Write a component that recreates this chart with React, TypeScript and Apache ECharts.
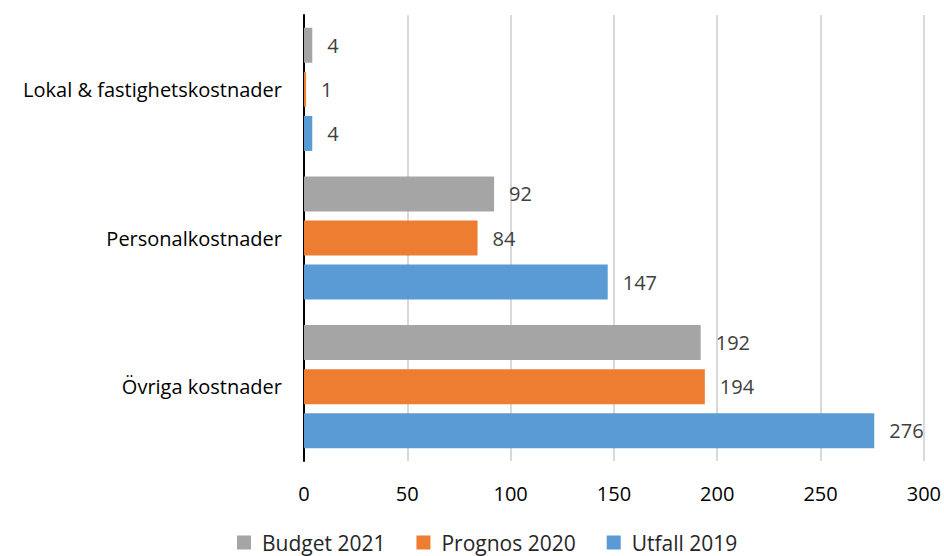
import React, { useEffect, useRef } from "react";
import * as echarts from "echarts";

const categories = ["Övriga kostnader", "Personalkostnader", "Lokal & fastighetskostnader"];
const utfall2019 = [276, 147, 4];
const prognos2020 = [194, 84, 1];
const budget2021 = [192, 92, 4];
const xTicks = [0, 50, 100, 150, 200, 250, 300];

const FONT = "'Open Sans', 'Noto Sans', sans-serif";

export default function App() {
  const ref = useRef<HTMLDivElement>(null);
  useEffect(() => {
    const chart = echarts.init(ref.current!, null, { renderer: "svg" });
    const label = {
      show: true,
      position: "right" as const,
      distance: 15,
      color: "#404040",
      fontSize: 20,
      fontFamily: FONT,
    };
    const mk = (name: string, data: number[], color: string) => ({
      name,
      type: "bar",
      data,
      barWidth: 35,
      barGap: "26%",
      itemStyle: { color },
      label,
    });
    chart.setOption({
      animation: false,
      grid: { left: 304, right: 18, top: 15, bottom: 95, containLabel: false },
      legend: {
        data: ["Budget 2021", "Prognos 2020", "Utfall 2019"],
        bottom: -2,
        left: 232,
        itemWidth: 14,
        itemHeight: 14,
        itemGap: 31,
        icon: "rect",
        textStyle: { color: "#262626", fontSize: 21, fontFamily: FONT, padding: [0, 0, 0, 6] },
      },
      xAxis: {
        type: "value",
        min: xTicks[0],
        max: xTicks[xTicks.length - 1],
        interval: 50,
        axisLine: { show: false },
        axisTick: { show: false },
        splitLine: { show: true, lineStyle: { color: "#d9d9d9", width: 2 } },
        axisLabel: { color: "#000", fontSize: 20, fontFamily: FONT, margin: 22 },
      },
      yAxis: {
        type: "category",
        data: categories,
        axisLine: { show: true, lineStyle: { color: "#000", width: 2 } },
        axisTick: { show: false },
        axisLabel: { color: "#000", fontSize: 20, fontFamily: FONT, margin: 22 },
      },
      series: [
        mk("Budget 2021", budget2021, "#A5A5A5"),
        mk("Prognos 2020", prognos2020, "#ED7D31"),
        mk("Utfall 2019", utfall2019, "#5B9BD5"),
      ],
    });
    return () => chart.dispose();
  }, []);
  return (
    <div
      ref={ref}
      style={{ width: 944, height: 556, position: "absolute", left: 0, top: 0 }}
    />
  );
}
